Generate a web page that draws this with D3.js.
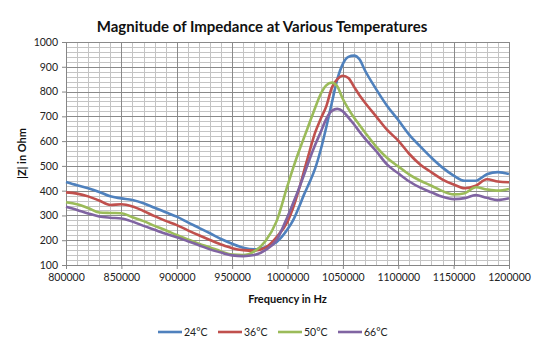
<!DOCTYPE html>
<html>
<head>
<meta charset="utf-8">
<script src="https://cdn.jsdelivr.net/npm/d3@7"></script>
<style>
  body { margin: 0; background: #fff; }
  svg { display: block; font-family: Lato, "Liberation Sans", sans-serif; }
</style>
</head>
<body>
<svg id="chart" width="540" height="344"></svg>
<script>
// frequencies (Hz) shared by all series
const freq = [
  800000, 810000, 820000, 830000, 840000, 850000, 860000, 870000, 880000, 890000,
  900000, 910000, 920000, 930000, 940000, 950000, 960000, 970000, 980000, 990000,
  1000000, 1005000, 1010000, 1015000, 1020000, 1025000, 1030000, 1035000, 1040000, 1045000,
  1050000, 1055000, 1060000, 1065000, 1070000, 1080000, 1090000, 1100000, 1110000, 1120000,
  1130000, 1140000, 1150000, 1160000, 1170000, 1180000, 1190000, 1200000
];

const z24 = [
  435, 422, 410, 395, 377, 369, 362, 349, 331, 313,
  295, 272, 250, 228, 205, 186, 170, 163, 172, 192,
  244, 280, 330, 385, 435, 490, 565, 656, 754, 850,
  912, 940, 945, 930, 885, 810, 742, 685, 625, 578,
  533, 493, 461, 440, 440, 466, 475, 467
];
const z36 = [
  393, 388, 377, 360, 342, 345, 336, 318, 297, 278,
  261, 240, 220, 201, 183, 168, 160, 158, 170, 212,
  275, 330, 400, 480, 560, 635, 690, 740, 815, 850,
  864, 855, 820, 785, 755, 700, 645, 602, 548, 505,
  474, 445, 425, 410, 420, 446, 437, 434
];
const z50 = [
  353, 345, 330, 312, 310, 309, 293, 277, 258, 240,
  221, 203, 186, 171, 155, 142, 140, 155, 196, 275,
  420, 490, 555, 615, 675, 735, 790, 825, 836, 820,
  770, 730, 695, 665, 635, 578, 532, 498, 465, 440,
  420, 398, 385, 390, 414, 405, 400, 407
];
const z66 = [
  335, 322, 308, 296, 291, 288, 275, 258, 242, 226,
  212, 196, 180, 163, 150, 139, 136, 140, 160, 200,
  295, 349, 405, 465, 528, 585, 637, 690, 722, 730,
  720, 695, 668, 638, 610, 560, 505, 470, 437, 412,
  393, 375, 366, 370, 382, 371, 362, 369
];

const seriesNames = ['24°C', '36°C', '50°C', '66°C'];
const seriesValues = [z24, z36, z50, z66];
const seriesColors = ['#4F81BD', '#C0504D', '#9BBB59', '#8064A2'];

const xTicks = [800000, 850000, 900000, 950000, 1000000, 1050000, 1100000, 1150000, 1200000];
const yTicks = [100, 200, 300, 400, 500, 600, 700, 800, 900, 1000];

const margin = { top: 42, right: 31, bottom: 79, left: 66 };
const width = 540, height = 344;
const innerW = width - margin.left - margin.right;
const innerH = height - margin.top - margin.bottom;

const svg = d3.select('#chart');
const g = svg.append('g').attr('transform', `translate(${margin.left},${margin.top})`);

const x = d3.scaleLinear().domain([800000, 1200000]).range([0, innerW]);
const y = d3.scaleLinear().domain([100, 1000]).range([innerH, 0]);

// minor grid
const xMinor = d3.range(800000, 1200001, 10000);
const yMinor = d3.range(100, 1001, 20);

g.append('g').selectAll('line').data(xMinor).join('line')
  .attr('x1', d => Math.round(x(d)) + 0.5).attr('x2', d => Math.round(x(d)) + 0.5)
  .attr('y1', 0).attr('y2', innerH)
  .attr('stroke', '#c4c4c4').attr('stroke-width', 1);
g.append('g').selectAll('line').data(yMinor).join('line')
  .attr('y1', d => Math.round(y(d)) + 0.5).attr('y2', d => Math.round(y(d)) + 0.5)
  .attr('x1', 0).attr('x2', innerW)
  .attr('stroke', '#c4c4c4').attr('stroke-width', 1);

// major grid
g.append('g').selectAll('line').data(xTicks).join('line')
  .attr('x1', d => Math.round(x(d)) + 0.5).attr('x2', d => Math.round(x(d)) + 0.5)
  .attr('y1', 0).attr('y2', innerH)
  .attr('stroke', '#8a8a8a').attr('stroke-width', 1);
g.append('g').selectAll('line').data(yTicks).join('line')
  .attr('y1', d => Math.round(y(d)) + 0.5).attr('y2', d => Math.round(y(d)) + 0.5)
  .attr('x1', 0).attr('x2', innerW)
  .attr('stroke', '#8a8a8a').attr('stroke-width', 1);

// axes
const xAxis = d3.axisBottom(x).tickValues(xTicks).tickFormat(d3.format('d')).tickSize(4).tickPadding(5);
const yAxis = d3.axisLeft(y).tickValues(yTicks).tickFormat(d3.format('d')).tickSize(4).tickPadding(4);

const gx = g.append('g').attr('transform', `translate(0,${innerH})`).call(xAxis);
const gy = g.append('g').call(yAxis);
[gx, gy].forEach(a => {
  a.select('.domain').attr('stroke', '#868686');
  a.selectAll('.tick line').attr('stroke', '#868686');
  a.selectAll('text').attr('fill', '#222').attr('font-size', '10.5px')
    .attr('font-family', 'Lato, "Liberation Sans", sans-serif');
});

// lines
const line = d3.line()
  .x((d, i) => x(freq[i]))
  .y(d => y(d))
  .curve(d3.curveMonotoneX);

g.append('g').selectAll('path').data(seriesValues).join('path')
  .attr('d', line)
  .attr('fill', 'none')
  .attr('stroke', (d, i) => seriesColors[i])
  .attr('stroke-width', 2.6)
  .attr('stroke-linejoin', 'round');

// titles
svg.append('text')
  .attr('x', 262).attr('y', 32)
  .attr('text-anchor', 'middle')
  .attr('font-weight', 'bold')
  .attr('font-size', '15px')
  .attr('fill', '#111')
  .text('Magnitude of Impedance at Various Temperatures');

svg.append('text')
  .attr('x', margin.left + innerW / 2).attr('y', 303)
  .attr('text-anchor', 'middle')
  .attr('font-weight', 'bold')
  .attr('font-size', '11px')
  .attr('fill', '#111')
  .text('Frequency in Hz');

svg.append('text')
  .attr('transform', `translate(26,${margin.top + innerH / 2}) rotate(-90)`)
  .attr('text-anchor', 'middle')
  .attr('font-weight', 'bold')
  .attr('font-size', '11px')
  .attr('fill', '#111')
  .text('|Z| in Ohm');

// legend
const legend = svg.append('g').attr('transform', 'translate(158,332)');
const item = legend.selectAll('g').data(seriesNames).join('g')
  .attr('transform', (d, i) => `translate(${i * 60},0)`);
item.append('line')
  .attr('x1', 0).attr('x2', 24).attr('y1', 0).attr('y2', 0)
  .attr('stroke', (d, i) => seriesColors[i]).attr('stroke-width', 2.6);
item.append('text')
  .attr('x', 26).attr('y', 4)
  .attr('font-size', '10.5px')
  .attr('fill', '#222')
  .text(d => d);
</script>
</body>
</html>
